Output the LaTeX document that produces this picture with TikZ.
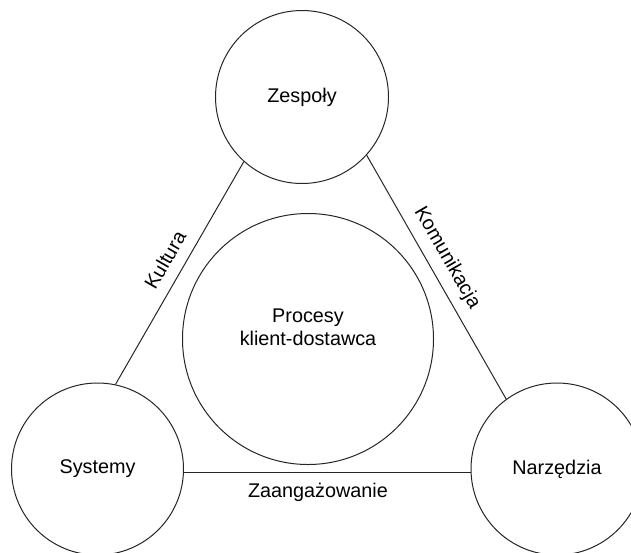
\documentclass[tikz,border=0pt]{standalone}
\usepackage{fontspec}
\setmainfont{Liberation Sans}
\begin{document}
\begin{tikzpicture}[x=1pt,y=-1pt,
  ring/.style={draw=black!85, line width=1pt, circle, inner sep=0pt, align=center},
  lab/.style={font=\fontsize{19.8}{23}\selectfont, inner sep=0pt},
  edge/.style={draw=black!85, line width=1pt}]
\useasboundingbox (0,0) rectangle (631,552);
\clip (0,0) rectangle (631,552);
\node[ring, minimum size=173pt, lab] (Z) at (302,97) {Zespoły};
\node[ring, minimum size=172pt, lab] (S) at (97.5,469) {Systemy};
\node[ring, minimum size=172pt, lab] (N) at (557,469) {Narzędzia};
\node[ring, minimum size=251pt] (P) at (308,339) {};
\node[lab, align=center] (Pt) at (308,327) {Procesy\\klient-dostawca};
\draw[edge] (Z.228) -- (S.78);
\draw[edge] (Z.318) -- (N.126);
\draw[edge] (S.-2.7) -- (N.182.7);
\node[lab, rotate=60] (K) at (165,260) {Kultura};
\node[lab, rotate=-60] (Ko) at (447,258) {Komunikacja};
\node[lab] (Za) at (318,492) {Zaangażowanie};
\end{tikzpicture}
\end{document}
